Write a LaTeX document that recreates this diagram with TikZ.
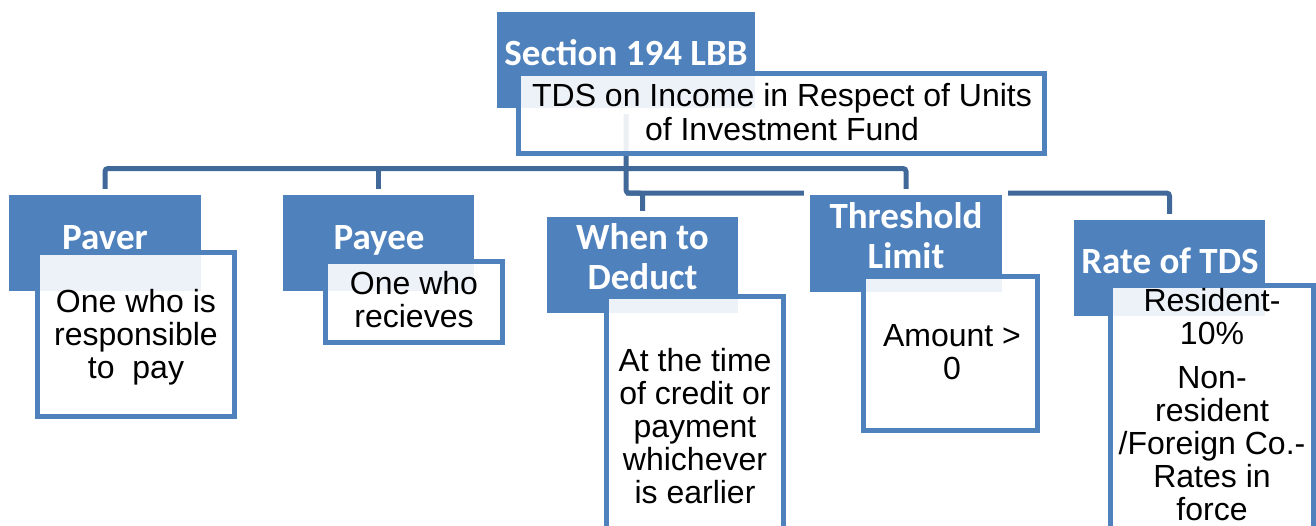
\documentclass[tikz,border=0pt]{standalone}
\usepackage{fontspec}
\setmainfont{Liberation Sans}
\newfontfamily\carl{Carlito}
\definecolor{hblue}{RGB}{79,129,189}
\definecolor{cblue}{RGB}{64,104,152}
\pgfdeclarelayer{bg}
\pgfsetlayers{bg,main}
\begin{document}
\begin{tikzpicture}[x=1pt,y=-1pt,
 conn/.style={draw=cblue,line width=5pt,rounded corners=3pt},
 hdr/.style={fill=hblue,inner sep=0pt,outer sep=0pt,preaction={draw=white,line width=12pt}},
 desc/.style={draw=hblue,line width=5pt,fill=white,fill opacity=0.9,draw opacity=1,inner sep=0pt,outer sep=0pt},
 htext/.style={font=\carl\bfseries\fontsize{37}{40}\selectfont,text=white,align=center,anchor=base,inner sep=0pt},
 dtext/.style={font=\fontsize{32}{33}\selectfont,align=center,anchor=base,inner sep=0pt},
]
\useasboundingbox (0,0) rectangle (1316,525);
\clip (0,0) rectangle (1316,525);

% header boxes
\node[hdr,minimum width=258,minimum height=96] (secH) at (626,60) {};
\node[hdr,minimum width=192,minimum height=96] (paverH) at (105,243) {};
\node[hdr,minimum width=191,minimum height=96] (payeeH) at (378.5,243) {};
\node[hdr,minimum width=191,minimum height=96] (whenH) at (642.5,265) {};
\node[hdr,minimum width=192,minimum height=97] (thrH) at (906,243.5) {};
\node[hdr,minimum width=191,minimum height=96] (rateH) at (1169.5,268) {};

% connectors
\coordinate (lineA) at (0,168.5);
\coordinate (lineB) at (626,193);
\begin{pgfonlayer}{bg}
\draw[conn] (secH.south) -- (lineB) -| (whenH.north);
\draw[conn] (lineB) -| (rateH.north);
\draw[conn] (paverH.north) |- (thrH.north |- lineA) -- (thrH.north);
\draw[conn] (payeeH.north) -- (payeeH.north |- lineA);
\end{pgfonlayer}

% description boxes
\node[desc,minimum width=526,minimum height=80] (topD) at (781.5,113.5) {};
\node[desc,minimum width=197,minimum height=164] (paverD) at (136,334.5) {};
\node[desc,minimum width=177,minimum height=81] (payeeD) at (414,302) {};
\node[desc,minimum width=177,minimum height=243.5] (whenD) at (695,418.25) {};
\node[desc,minimum width=174,minimum height=154] (thrD) at (950.5,353.5) {};
\node[desc,minimum width=203,minimum height=254.5] (rateD) at (1212,412.75) {};

% header texts (anchor base = last line)
\node[htext] (secT) at (626,65) {Section 194 LBB};
\node[htext] (paverT) at (105,249) {Paver};
\node[htext] (payeeT) at (379,249) {Payee};
\node[htext] (whenT) at (642.5,289) {When to\\Deduct};
\node[htext] (thrT) at (906,268) {Threshold\\Limit};
\node[htext] (rateT) at (1170,273) {Rate of TDS};

% description texts
\node[dtext,font=\fontsize{32}{34}\selectfont] (topT) at (782,140) {TDS on Income in Respect of Units\\of Investment Fund};
\node[dtext] (paverDT) at (136,378) {One who is\\responsible\\to~~pay};
\node[dtext] (payeeDT) at (414,327) {One who\\recieves};
\node[dtext] (whenDT) at (695,503) {At the time\\of credit or\\payment\\whichever\\is earlier};
\node[dtext] (thrDT) at (952,379) {Amount >\\0};
\node[dtext] (rateDT) at (1212,520) {Resident-\\10\%\\[11pt]Non-\\resident\\/Foreign Co.-\\Rates in\\force};
\end{tikzpicture}
\end{document}
